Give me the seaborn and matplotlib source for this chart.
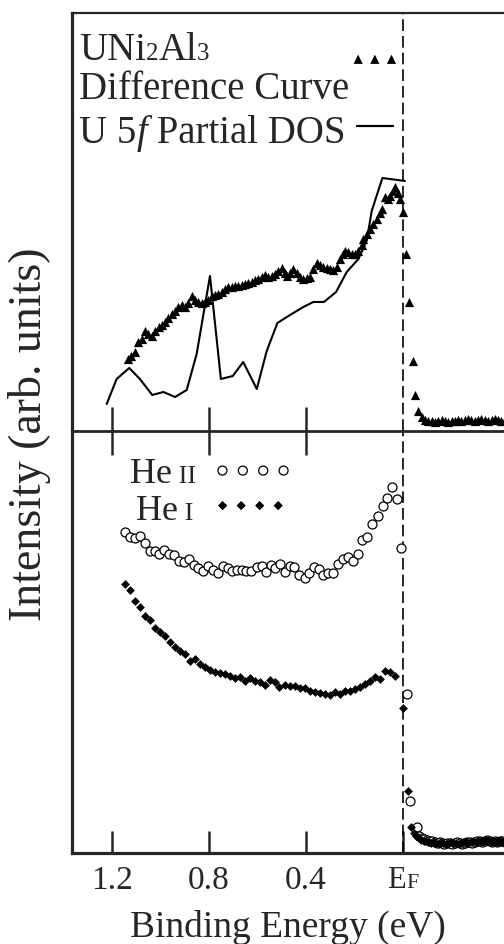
import matplotlib
matplotlib.use("Agg")
import matplotlib.pyplot as plt
import seaborn as sns
import pandas as pd
from matplotlib.transforms import offset_copy, blended_transform_factory

# ---------------- data ----------------
dos_energy = [1.222, 1.181, 1.129, 1.085, 1.034, 0.988, 0.940, 0.892, 0.851, 0.796,
              0.751, 0.702, 0.659, 0.603, 0.562, 0.518, 0.466, 0.411, 0.370, 0.326,
              0.276, 0.232, 0.184, 0.150, 0.129, 0.085, -0.008]
dos_intensity = [27, 52, 63, 52, 36, 39, 34, 41, 77, 155,
                 52, 55, 69, 42, 80, 108, 116, 124, 129, 129,
                 139, 159, 172, 190, 220, 253, 250]

diff_energy = [1.133, 1.120, 1.105, 1.092, 1.078, 1.064, 1.050, 1.036, 1.022, 1.008,
               0.995, 0.981, 0.968, 0.954, 0.940, 0.927, 0.913, 0.899, 0.885, 0.871,
               0.858, 0.844, 0.830, 0.816, 0.803, 0.789, 0.775, 0.762, 0.748, 0.734,
               0.720, 0.706, 0.693, 0.679, 0.665, 0.651, 0.638, 0.624, 0.610, 0.597,
               0.583, 0.569, 0.555, 0.542, 0.528, 0.514, 0.500, 0.487, 0.480, 0.466,
               0.452, 0.439, 0.425, 0.411, 0.397, 0.384, 0.370, 0.356, 0.343, 0.329,
               0.315, 0.302, 0.288, 0.274, 0.260, 0.247, 0.239, 0.225, 0.212, 0.198,
               0.184, 0.171, 0.164, 0.150, 0.136, 0.122, 0.108, 0.095, 0.088, 0.074,
               0.060, 0.054, 0.040, 0.033, 0.019, 0.012, -0.001, -0.012, -0.026, -0.040,
               -0.049, -0.063, -0.077, -0.090, -0.104, -0.118, -0.131, -0.145, -0.159, -0.173,
               -0.186, -0.200, -0.214, -0.227, -0.241, -0.255, -0.269, -0.282, -0.296, -0.310,
               -0.323, -0.337, -0.351, -0.365, -0.378, -0.392, -0.406, -0.420]
diff_intensity = [72, 75, 79, 89, 92, 100, 97, 95, 100, 104,
                  106, 109, 113, 117, 120, 124, 126, 124, 128, 135,
                  131, 129, 128, 129, 131, 135, 136, 137, 139, 142,
                  144, 144, 145, 145, 146, 147, 148, 149, 151, 152,
                  154, 156, 154, 155, 157, 160, 163, 158, 155, 158,
                  162, 158, 154, 152, 153, 154, 162, 168, 166, 164,
                  163, 162, 161, 164, 172, 177, 180, 179, 177, 177,
                  180, 186, 192, 197, 202, 207, 212, 218, 222, 234,
                  232, 235, 240, 244, 238, 232, 219, 177, 129, 70,
                  36, 20, 14, 11, 10, 10, 9, 10, 11, 10,
                  9, 10, 10, 11, 10, 11, 12, 11, 10, 11,
                  12, 11, 10, 11, 12, 11, 10, 11]

he2_energy = [1.146, 1.126, 1.105, 1.085, 1.064, 1.043, 1.023, 1.005, 0.984, 0.964,
              0.943, 0.922, 0.902, 0.881, 0.861, 0.844, 0.826, 0.805, 0.785, 0.762,
              0.744, 0.723, 0.706, 0.686, 0.665, 0.647, 0.628, 0.603, 0.583, 0.565,
              0.546, 0.528, 0.507, 0.487, 0.466, 0.448, 0.428, 0.404, 0.386, 0.367,
              0.348, 0.329, 0.308, 0.290, 0.267, 0.246, 0.226, 0.205, 0.187, 0.170,
              0.150, 0.129, 0.104, 0.084, 0.067, 0.047, 0.026, 0.009, -0.015, -0.029,
              -0.056, -0.068, -0.078, -0.088, -0.099, -0.109, -0.120, -0.130, -0.140, -0.151,
              -0.161, -0.171, -0.182, -0.192, -0.202, -0.213, -0.223, -0.233, -0.244, -0.254,
              -0.264, -0.275, -0.285, -0.295, -0.306, -0.316, -0.326, -0.337, -0.347, -0.357,
              -0.368, -0.378, -0.388, -0.399, -0.409, -0.419]
he2_intensity = [321, 316, 315, 317, 310, 302, 302, 299, 303, 299,
                 298, 292, 291, 294, 288, 285, 282, 287, 283, 280,
                 287, 285, 282, 283, 283, 282, 282, 286, 287, 281,
                 288, 285, 289, 281, 287, 286, 278, 275, 280, 286,
                 284, 278, 280, 280, 289, 294, 296, 292, 299, 313,
                 316, 329, 337, 347, 355, 366, 354, 305, 159, 52,
                 26, 17, 15, 14, 13, 12, 12, 11, 10, 11,
                 10, 9, 10, 10, 9, 10, 11, 10, 9, 10,
                 11, 11, 10, 11, 12, 12, 11, 12, 13, 12,
                 11, 12, 11, 12, 12, 11]

he1_energy = [1.146, 1.126, 1.105, 1.085, 1.064, 1.043, 1.023, 1.002, 0.981, 0.961,
              0.940, 0.920, 0.899, 0.878, 0.858, 0.837, 0.816, 0.796, 0.775, 0.755,
              0.734, 0.713, 0.693, 0.672, 0.652, 0.631, 0.610, 0.590, 0.569, 0.548,
              0.528, 0.510, 0.487, 0.466, 0.445, 0.425, 0.404, 0.384, 0.363, 0.342,
              0.322, 0.301, 0.280, 0.260, 0.239, 0.219, 0.198, 0.177, 0.157, 0.136,
              0.115, 0.095, 0.074, 0.054, 0.033, 0.001, -0.022, -0.032, -0.045, -0.055,
              -0.065, -0.075, -0.085, -0.096, -0.106, -0.116, -0.126, -0.137, -0.147, -0.157,
              -0.167, -0.178, -0.188, -0.198, -0.208, -0.219, -0.229, -0.239, -0.249, -0.260,
              -0.270, -0.280, -0.290, -0.301, -0.311, -0.321, -0.331, -0.342, -0.352, -0.362,
              -0.372, -0.383, -0.393, -0.403, -0.414]
he1_intensity = [269, 263, 252, 246, 237, 233, 225, 221, 217, 211,
                 206, 202, 199, 192, 194, 189, 186, 183, 181, 180,
                 179, 177, 175, 176, 172, 175, 172, 171, 168, 173,
                 171, 166, 168, 167, 167, 165, 165, 162, 161, 160,
                 159, 158, 161, 159, 162, 162, 164, 166, 169, 172,
                 176, 174, 182, 181, 177, 145, 62, 26, 20, 17,
                 15, 13, 12, 12, 11, 10, 11, 10, 9, 10,
                 10, 9, 10, 11, 10, 10, 9, 10, 11, 11,
                 10, 11, 12, 11, 12, 11, 12, 13, 12, 11,
                 12, 11, 12, 12, 11]

tick_values = [1.2, 0.8, 0.4, 0.0]
tick_labels = ["1.2", "0.8", "0.4", ""]
x_label = "Binding Energy (eV)"
y_label = "Intensity (arb. units)"

dos_df = pd.DataFrame({"energy": dos_energy, "intensity": dos_intensity})
diff_df = pd.DataFrame({"energy": diff_energy, "intensity": diff_intensity})
he2_df = pd.DataFrame({"energy": he2_energy, "intensity": he2_intensity})
he1_df = pd.DataFrame({"energy": he1_energy, "intensity": he1_intensity})

# ---------------- style ----------------
sns.set_style("white")
SERIF = ["Liberation Serif", "DejaVu Serif"]
plt.rcParams["font.family"] = SERIF
plt.rcParams["axes.linewidth"] = 2.0

fig = plt.figure(figsize=(5.04, 9.45), dpi=100)
ax_bot = fig.add_axes([0.14286, 0.09630, 0.85714, 0.44656])
ax_top = fig.add_axes([0.14286, 0.54286, 0.85714, 0.44233])
ax_top.patch.set_visible(False)
ax_bot.patch.set_visible(False)

XL = (1.365, -0.4165)

# ---------------- top panel ----------------
sns.lineplot(data=dos_df, x="energy", y="intensity", ax=ax_top, color="black",
             lw=1.5, estimator=None, sort=True)
h_dos = ax_top.lines[-1]
sns.scatterplot(data=diff_df, x="energy", y="intensity", ax=ax_top, marker="^",
                s=44, color="black", linewidth=0, zorder=3)
h_diff = ax_top.collections[-1]
ax_top.axvline(0, color="black", lw=1.2, ls=(0, (7, 3)), zorder=1)

ax_top.set_xlim(*XL)
ax_top.set_ylim(0, 418)
ax_top.set_yticks([])
ax_top.set_xticks(tick_values[:3])
ax_top.tick_params(axis="x", direction="inout", length=35, width=1.8,
                   labelbottom=False, bottom=True)
ax_top.set_xlabel("")
ax_top.set_ylabel("")
ax_top.spines["right"].set_visible(False)
ax_top.spines["left"].set_linewidth(2.3)
ax_top.spines["top"].set_linewidth(1.6)
ax_top.spines["bottom"].set_linewidth(2.0)

# ---------------- bottom panel ----------------
sns.scatterplot(data=he2_df, x="energy", y="intensity", ax=ax_bot, marker="o",
                s=42, facecolor="white", edgecolor="black", linewidth=0.9, zorder=3)
h_he2 = ax_bot.collections[-1]
sns.scatterplot(data=he1_df, x="energy", y="intensity", ax=ax_bot, marker="D",
                s=20, color="black", linewidth=0, zorder=4)
h_he1 = ax_bot.collections[-1]
ax_bot.axvline(0, color="black", lw=1.2, ls=(0, (7, 3)), zorder=1)

ax_bot.set_xlim(*XL)
ax_bot.set_ylim(0, 422)
ax_bot.set_yticks([])
ax_bot.set_xticks(tick_values)
ax_bot.set_xticklabels(tick_labels)
ax_bot.tick_params(axis="x", direction="in", length=16, width=1.8, pad=8,
                   labelsize=24, bottom=True)
ax_bot.set_ylabel("")
ax_bot.set_xlabel(x_label, fontsize=27, labelpad=10)
ax_bot.spines["right"].set_visible(False)
ax_bot.spines["top"].set_visible(False)
ax_bot.spines["left"].set_linewidth(2.3)
ax_bot.spines["bottom"].set_linewidth(2.3)

fig.text(0.058, 0.5407, y_label, rotation=90, ha="center", va="center", fontsize=33)

# ---------------- legends (handles only) ----------------
def handle_legend(ax, handle, center, hl, npts):
    leg = ax.legend([handle], [""], loc="center", bbox_to_anchor=center,
                    frameon=False, handlelength=hl, handletextpad=0, borderpad=0,
                    borderaxespad=0, numpoints=npts, scatterpoints=npts,
                    scatteryoffsets=[0.5], fontsize=10)
    ax.add_artist(leg)
    return leg

handle_legend(ax_top, h_diff, (0.701, 0.886), 3.0, 3)
handle_legend(ax_top, h_dos, (0.701, 0.7265), 2.6, 1)
handle_legend(ax_bot, h_he2, (0.419, 0.903), 5.0, 4)
handle_legend(ax_bot, h_he1, (0.413, 0.820), 4.6, 4)

# ---------------- rich text helper ----------------
renderer = fig.canvas.get_renderer()

def rich_text(ax, x, y, pieces, transform, ha="left"):
    texts, widths = [], []
    for s, size, style in pieces:
        t = ax.text(x, y, s, transform=transform, fontsize=size, fontstyle=style,
                    va="baseline", ha="left", family=SERIF)
        widths.append(t.get_window_extent(renderer=renderer).width)
        texts.append(t)
    dx = -sum(widths) / 2 if ha == "center" else 0.0
    for t, w in zip(texts, widths):
        t.set_transform(offset_copy(transform, fig=fig, x=dx, y=0, units="dots"))
        dx += w

rich_text(ax_top, 0.016, 0.890,
          [("UNi", 28, "normal"), ("2", 18, "normal"), ("Al", 28, "normal"), ("3", 18, "normal")],
          ax_top.transAxes)
rich_text(ax_top, 0.016, 0.797, [("Difference Curve", 28, "normal")], ax_top.transAxes)
rich_text(ax_top, 0.016, 0.691,
          [("U 5", 28, "normal"), ("f", 28, "italic"), (" Partial DOS", 28, "normal")],
          ax_top.transAxes)
rich_text(ax_bot, 0.134, 0.879, [("He", 26, "normal"), (" II", 19, "normal")], ax_bot.transAxes)
rich_text(ax_bot, 0.148, 0.791, [("He", 26, "normal"), (" I", 19, "normal")], ax_bot.transAxes)

ef_tr = blended_transform_factory(ax_bot.transData, ax_bot.transAxes)
rich_text(ax_bot, 0.0, -0.0806, [("E", 22, "normal"), ("F", 16, "normal")], ef_tr, ha="center")

fig.savefig("out.png", dpi=100)
